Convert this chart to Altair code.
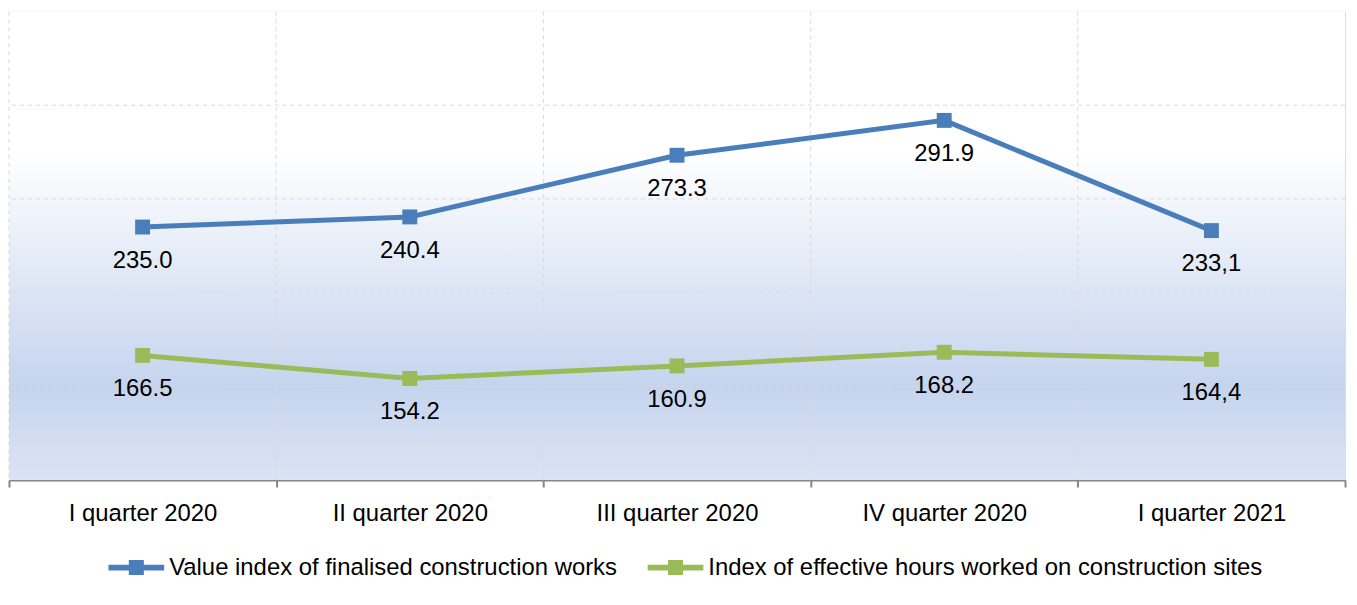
import altair as alt
import pandas as pd

quarters = ["I quarter 2020", "II quarter 2020", "III quarter 2020", "IV quarter 2020", "I quarter 2021"]
series_names = ["Value index of finalised construction works",
                "Index of effective hours worked on construction sites"]
value_index = [235.0, 240.4, 273.3, 291.9, 233.1]
value_labels = ["235.0", "240.4", "273.3", "291.9", "233,1"]
hours_index = [166.5, 154.2, 160.9, 168.2, 164.4]
hours_labels = ["166.5", "154.2", "160.9", "168.2", "164,4"]
grid_values = [150, 200, 250, 300]
colors = ["#4a7ebb", "#9bbb59"]

rows = []
for s, vals, labs in [(series_names[0], value_index, value_labels),
                      (series_names[1], hours_index, hours_labels)]:
    for q, v, l in zip(quarters, vals, labs):
        rows.append({"quarter": q, "series": s, "value": v, "label": l})
df = pd.DataFrame(rows)
grid_df = pd.DataFrame({"value": grid_values})
q_df = pd.DataFrame({"quarter": quarters})

FONT = "Liberation Sans"
FS = 24
W, H = 1343, 471

x_scale = alt.Scale(type="band", paddingInner=0, paddingOuter=0, domain=quarters)
x_axis = alt.Axis(tickBand="extent", grid=False,
                  domainColor="#868686", domainWidth=2, tickColor="#868686", tickWidth=2,
                  tickSize=7, labelFontSize=FS, labelFont=FONT, labelColor="black",
                  labelPadding=15, labelAngle=0, title=None)
x_enc = alt.X("quarter:N", sort=quarters, title=None, scale=x_scale, axis=x_axis)
y_scale = alt.Scale(domain=[100, 350], nice=False, zero=False)
y_enc = alt.Y("value:Q", title=None, scale=y_scale, axis=None)
color_scale = alt.Scale(domain=series_names, range=colors)

gradient = alt.LinearGradient(
    gradient="linear", x1=0, x2=0, y1=0, y2=1,
    stops=[alt.GradientStop(offset=0, color="#ffffff"),
           alt.GradientStop(offset=0.3, color="#ffffff"),
           alt.GradientStop(offset=0.8, color="#c5d4ee"),
           alt.GradientStop(offset=1, color="#dbe4f4")])

bg = alt.Chart(pd.DataFrame({"a": [0]})).mark_rect(color=gradient).encode(
    x=alt.value(0), x2=alt.value(W), y=alt.value(0), y2=alt.value(H))

hgrid = alt.Chart(grid_df).mark_rule(color="#d9d9d9", strokeDash=[4, 4], strokeWidth=1).encode(
    y=alt.Y("value:Q", scale=y_scale, axis=None))

vgrid = alt.Chart(q_df).mark_rule(color="#d9d9d9", strokeDash=[4, 4], strokeWidth=1).encode(
    x=alt.X("quarter:N", sort=quarters, scale=x_scale, bandPosition=0, axis=x_axis, title=None))

base = alt.Chart(df)

sym = "M-1,-0.1H-0.27V-0.27H0.27V-0.1H1V0.1H0.27V0.27H-0.27V0.1H-1Z"
legend = alt.Legend(title=None, orient="none", legendX=100, legendY=531,
                    direction="horizontal",
                    symbolType=sym, symbolSize=3136,
                    symbolStrokeWidth=0, symbolOpacity=1,
                    labelFontSize=FS, labelFont=FONT,
                    labelColor="black", labelLimit=1000, labelOffset=5,
                    columnPadding=30, padding=0)

lines = base.mark_line(strokeWidth=5).encode(
    x=x_enc, y=y_enc,
    stroke=alt.Stroke("series:N", scale=color_scale, legend=legend),
    detail="series:N",
)

points = base.mark_square(size=225, opacity=1, filled=True).encode(
    x=x_enc, y=y_enc,
    fill=alt.Fill("series:N", scale=color_scale, legend=legend),
)

texts = base.mark_text(dy=34, fontSize=FS, font=FONT, color="black").encode(
    x=x_enc, y=y_enc, text="label:N",
)

chart = alt.layer(bg, hgrid, vgrid, lines, points, texts).properties(
    width=W, height=H,
    autosize=alt.AutoSizeParams(type="none"),
    padding={"left": 1, "top": 2, "right": 4, "bottom": 110},
).configure_view(
    stroke="#d9d9d9", strokeWidth=2,
).configure(background="white")

chart.save("out.html", embed_options={"renderer": "svg", "actions": False})
